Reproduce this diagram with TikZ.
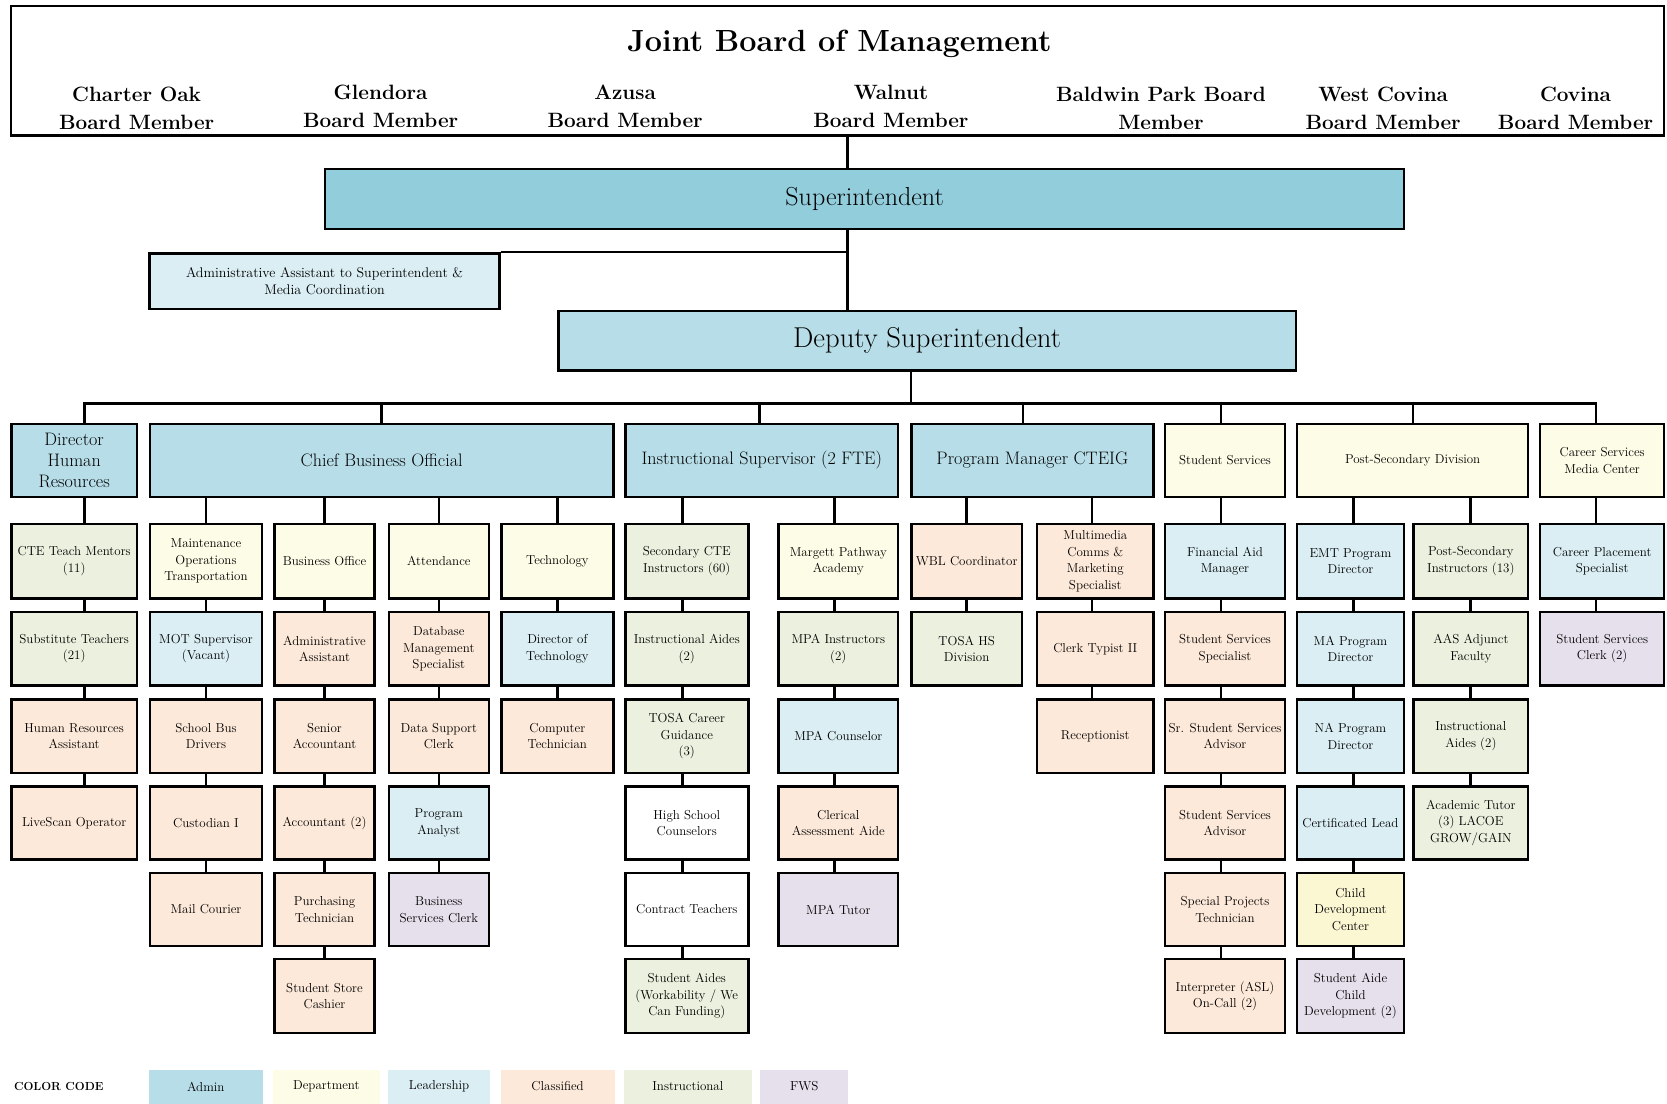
\documentclass[tikz,border=0pt]{standalone}
\usepackage{fontspec}
\definecolor{supblue}{HTML}{92CDDC}
\definecolor{adminblue}{HTML}{B7DEE8}
\definecolor{leadblue}{HTML}{DAEEF3}
\definecolor{deptyel}{HTML}{FDFCE6}
\definecolor{cdcyel}{HTML}{FBF7D3}
\definecolor{classif}{HTML}{FDE9D9}
\definecolor{instr}{HTML}{EBF1DE}
\definecolor{fws}{HTML}{E5E0EC}
\newcommand\ocsmall{\fontsize{12.2}{15.5}\selectfont\addfontfeatures{LetterSpace=8}}
\newcommand\ocmid{\fontsize{13.2}{16}\selectfont\addfontfeatures{LetterSpace=10}}
\newcommand\ocadmin{\fontsize{17}{19.5}\selectfont}
\newcommand\ocsup{\fontsize{24.5}{26}\selectfont}
\newcommand\ocdep{\fontsize{27}{28}\selectfont}
\newcommand\ocmember{\fontsize{19.5}{26}\selectfont\bfseries}
\newcommand\octitle{\fontsize{28.8}{32}\selectfont\bfseries}
\newcommand\ocsetcol[3]{\expandafter\def\csname cl#1\endcsname{#2}\expandafter\def\csname cr#1\endcsname{#3}}
\newcommand\ocsetrow[3]{\expandafter\def\csname rt#1\endcsname{#2}\expandafter\def\csname rb#1\endcsname{#3}}
\newcommand\ocnode[8]{%
  \pgfmathsetmacro\ocw{#4-#2-2.3}%
  \pgfmathsetmacro\och{#5-#3-2.3}%
  \pgfmathsetmacro\ocx{(#2+#4)/2}%
  \pgfmathsetmacro\ocy{(#3+#5)/2}%
  \node[bx,fill=#6,font=#7,minimum width=\ocw pt,minimum height=\och pt] (#1) at (\ocx,\ocy) {#8};}
\newcommand\obx[5]{%
  \edef\ocl{\csname cl#2\endcsname}\edef\ocr{\csname cr#2\endcsname}%
  \edef\oct{\csname rt#3\endcsname}\edef\ocb{\csname rb#3\endcsname}%
  \ocnode{#1}{\ocl}{\oct}{\ocr}{\ocb}{#4}{\ocsmall}{#5}}
\ocsetcol{1}{9.5}{130}
\ocsetcol{2}{140}{247.5}
\ocsetcol{3}{257}{353.5}
\ocsetcol{4}{364.5}{461}
\ocsetcol{5}{470.5}{578}
\ocsetcol{6}{587}{705}
\ocsetcol{7}{731}{846}
\ocsetcol{8}{856}{962.5}
\ocsetcol{9}{974.5}{1086}
\ocsetcol{10}{1094.5}{1210}
\ocsetcol{11}{1219}{1321.5}
\ocsetcol{12}{1328.5}{1438.5}
\ocsetcol{13}{1447.5}{1566.5}
\ocsetrow{2}{491.5}{564}
\ocsetrow{3}{574.5}{646}
\ocsetrow{4}{657}{728}
\ocsetrow{5}{738.5}{809.5}
\ocsetrow{6}{820}{891}
\ocsetrow{7}{901}{973}
\begin{document}
\begin{tikzpicture}[x=1pt,y=-1pt,
  bx/.style={draw=black,line width=2.3pt,inner sep=0pt,align=center},
  conn/.style={line width=2.2pt},
  leg/.style={inner sep=0pt,minimum height=32pt,align=center,font=\ocsmall},
  member/.style={inner sep=0pt,align=center,font=\ocmember}]
\useasboundingbox (0,0) rectangle (1568,1038);
\fill[white] (0,0) rectangle (1568,1038);
% board
\ocnode{board}{9}{4.7}{1566.5}{128.6}{white}{\ocsmall}{}
\node[font=\octitle,anchor=base,inner sep=0pt] (title) at (789.5,48.6) {Joint Board of Management};
\node[member] (m1) at (128.5,102) {Charter Oak\\Board Member};
\node[member] (m2) at (358,100) {Glendora\\Board Member};
\node[member] (m3) at (588,100) {Azusa\\Board Member};
\node[member] (m4) at (838,100) {Walnut\\Board Member};
\node[member] (m5) at (1092,102) {Baldwin Park Board\\Member};
\node[member] (m6) at (1301,102) {West Covina\\Board Member};
\node[member] (m7) at (1482,102) {Covina\\Board Member};
% top hierarchy
\ocnode{sup}{304.8}{157.7}{1321.7}{216.4}{supblue}{\ocsup}{Superintendent}
\ocnode{aa}{139.6}{237.3}{471}{291.6}{leadblue}{\ocmid}{Administrative Assistant to Superintendent \&\\Media Coordination}
\ocnode{dep}{524}{291.6}{1220}{349.6}{adminblue}{\ocdep}{Deputy Superintendent}
\coordinate (V) at (797.3,0);
\coordinate (D) at (857,0);
\coordinate (BY) at (0,379.4);
\draw[conn] (board.south -| V) -- (sup.north -| V);
\draw[conn] (sup.south -| V) -- (dep.north -| V);
\draw[conn] (aa.north east) -- (aa.north east -| V);
\draw[conn] (dep.south -| D) -- (D |- BY);
% row 1
\ocnode{hr}{9.5}{397.5}{130}{468.5}{adminblue}{\ocadmin}{Director\\Human\\Resources}
\ocnode{cbo}{140}{397.5}{578}{468.5}{adminblue}{\ocadmin}{Chief Business Official}
\ocnode{isup}{587}{397.5}{846}{468.5}{adminblue}{\ocadmin}{Instructional Supervisor (2 FTE)}
\ocnode{pm}{856}{397.5}{1086}{468.5}{adminblue}{\ocadmin}{Program Manager CTEIG}
\ocnode{ss}{1094.5}{397.5}{1210}{468.5}{deptyel}{\ocsmall}{Student Services}
\ocnode{psd}{1219}{397.5}{1438.5}{468.5}{deptyel}{\ocsmall}{Post-Secondary Division}
\ocnode{cs}{1447.5}{397.5}{1566.5}{468.5}{deptyel}{\ocsmall}{Career Services\\Media Center}
\coordinate (B1) at (79.5,0);
\coordinate (B2) at (358.7,0);
\coordinate (B3) at (714.4,0);
\coordinate (B4) at (962.5,0);
\coordinate (B5) at (1148.5,0);
\coordinate (B6) at (1329,0);
\coordinate (B7) at (1501,0);
\draw[conn,line cap=rect] (B1 |- BY) -- (B7 |- BY);
\foreach \bb/\nn in {1/hr,2/cbo,3/isup,4/pm,5/ss,6/psd,7/cs}
  \draw[conn] (B\bb |- BY) -- (\nn.north -| B\bb);
% columns
\obx{c1r2}{1}{2}{instr}{CTE Teach Mentors\\(11)}
\obx{c1r3}{1}{3}{instr}{Substitute Teachers\\(21)}
\obx{c1r4}{1}{4}{classif}{Human Resources\\Assistant}
\obx{c1r5}{1}{5}{classif}{LiveScan Operator}
\obx{c2r2}{2}{2}{deptyel}{Maintenance\\Operations\\Transportation}
\obx{c2r3}{2}{3}{leadblue}{MOT Supervisor\\(Vacant)}
\obx{c2r4}{2}{4}{classif}{School Bus\\Drivers}
\obx{c2r5}{2}{5}{classif}{Custodian I}
\obx{c2r6}{2}{6}{classif}{Mail Courier}
\obx{c3r2}{3}{2}{deptyel}{Business Office}
\obx{c3r3}{3}{3}{classif}{Administrative\\Assistant}
\obx{c3r4}{3}{4}{classif}{Senior\\Accountant}
\obx{c3r5}{3}{5}{classif}{Accountant (2)}
\obx{c3r6}{3}{6}{classif}{Purchasing\\Technician}
\obx{c3r7}{3}{7}{classif}{Student Store\\Cashier}
\obx{c4r2}{4}{2}{deptyel}{Attendance}
\obx{c4r3}{4}{3}{classif}{Database\\Management\\Specialist}
\obx{c4r4}{4}{4}{classif}{Data Support\\Clerk}
\obx{c4r5}{4}{5}{leadblue}{Program\\Analyst}
\obx{c4r6}{4}{6}{fws}{Business\\Services Clerk}
\obx{c5r2}{5}{2}{deptyel}{Technology}
\obx{c5r3}{5}{3}{leadblue}{Director of\\Technology}
\obx{c5r4}{5}{4}{classif}{Computer\\Technician}
\obx{c6r2}{6}{2}{instr}{Secondary CTE\\Instructors (60)}
\obx{c6r3}{6}{3}{instr}{Instructional Aides\\(2)}
\obx{c6r4}{6}{4}{instr}{TOSA Career\\Guidance\\(3)}
\obx{c6r5}{6}{5}{white}{High School\\Counselors}
\obx{c6r6}{6}{6}{white}{Contract Teachers}
\obx{c6r7}{6}{7}{instr}{Student Aides\\(Workability / We\\Can Funding)}
\obx{c7r2}{7}{2}{deptyel}{Margett Pathway\\Academy}
\obx{c7r3}{7}{3}{instr}{MPA Instructors\\(2)}
\obx{c7r4}{7}{4}{leadblue}{MPA Counselor}
\obx{c7r5}{7}{5}{classif}{Clerical\\Assessment Aide}
\obx{c7r6}{7}{6}{fws}{MPA Tutor}
\obx{c8r2}{8}{2}{classif}{WBL Coordinator}
\obx{c8r3}{8}{3}{instr}{TOSA HS\\Division}
\obx{c9r2}{9}{2}{classif}{Multimedia\\Comms \&\\Marketing\\Specialist}
\obx{c9r3}{9}{3}{classif}{Clerk Typist II}
\obx{c9r4}{9}{4}{classif}{Receptionist}
\obx{c10r2}{10}{2}{leadblue}{Financial Aid\\Manager}
\obx{c10r3}{10}{3}{classif}{Student Services\\Specialist}
\obx{c10r4}{10}{4}{classif}{Sr. Student Services\\Advisor}
\obx{c10r5}{10}{5}{classif}{Student Services\\Advisor}
\obx{c10r6}{10}{6}{classif}{Special Projects\\Technician}
\obx{c10r7}{10}{7}{classif}{Interpreter (ASL)\\On-Call (2)}
\obx{c11r2}{11}{2}{leadblue}{EMT Program\\Director}
\obx{c11r3}{11}{3}{leadblue}{MA Program\\Director}
\obx{c11r4}{11}{4}{leadblue}{NA Program\\Director}
\obx{c11r5}{11}{5}{leadblue}{Certificated Lead}
\obx{c11r6}{11}{6}{cdcyel}{Child\\Development\\Center}
\obx{c11r7}{11}{7}{fws}{Student Aide\\Child\\Development (2)}
\obx{c12r2}{12}{2}{instr}{Post-Secondary\\Instructors (13)}
\obx{c12r3}{12}{3}{instr}{AAS Adjunct\\Faculty}
\obx{c12r4}{12}{4}{instr}{Instructional\\Aides (2)}
\obx{c12r5}{12}{5}{instr}{Academic Tutor\\(3) LACOE\\GROW/GAIN}
\obx{c13r2}{13}{2}{leadblue}{Career Placement\\Specialist}
\obx{c13r3}{13}{3}{fws}{Student Services\\Clerk (2)}
% column line x positions
\coordinate (L1) at (79.5,0);
\coordinate (L2) at (193.75,0);
\coordinate (L3) at (305.25,0);
\coordinate (L4) at (412.75,0);
\coordinate (L5) at (524.25,0);
\coordinate (L6) at (642,0);
\coordinate (L7) at (785,0);
\coordinate (L8) at (909,0);
\coordinate (L9) at (1027,0);
\coordinate (L10) at (1148.5,0);
\coordinate (L11) at (1273,0);
\coordinate (L12) at (1383,0);
\coordinate (L13) at (1501,0);
\foreach \cc/\pp in {1/hr,2/cbo,3/cbo,4/cbo,5/cbo,6/isup,7/isup,8/pm,9/pm,10/ss,11/psd,12/psd,13/cs}
  \draw[conn] (\pp.south -| L\cc) -- (c\cc r2.north -| L\cc);
\foreach \cc/\last in {1/5,2/6,3/7,4/6,5/4,6/7,7/6,8/3,9/4,10/7,11/7,12/5,13/3}{
  \pgfmathtruncatemacro\lastm{\last-1}
  \foreach \rr in {2,...,\lastm}{
    \pgfmathtruncatemacro\rn{\rr+1}
    \draw[conn] (c\cc r\rr.south -| L\cc) -- (c\cc r\rn.north -| L\cc);
  }
}
% legend
\node[anchor=west,inner sep=0pt,font=\fontsize{11}{13}\selectfont\bfseries] (cc) at (13,1022) {COLOR CODE};
\node[leg,fill=adminblue,minimum width=107pt] (lg1) at (193.5,1022) {Admin};
\node[leg,fill=deptyel,minimum width=100pt] (lg2) at (307,1022) {Department};
\node[leg,fill=leadblue,minimum width=96pt] (lg3) at (413,1022) {Leadership};
\node[leg,fill=classif,minimum width=107pt] (lg4) at (524.5,1022) {Classified};
\node[leg,fill=instr,minimum width=120pt] (lg5) at (647,1022) {Instructional};
\node[leg,fill=fws,minimum width=83pt] (lg6) at (756.5,1022) {FWS};
\end{tikzpicture}
\end{document}
